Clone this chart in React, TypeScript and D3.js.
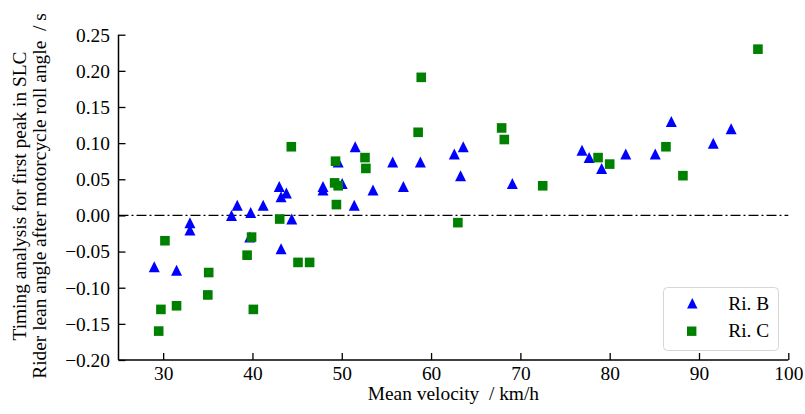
import * as d3 from "d3";
import { useEffect, useRef } from "react";

const W = 805;
const H = 414;

// Ri. B (blue triangles): mean velocity [km/h], timing [s]
const riBVelocity = [29.0, 31.5, 33.0, 33.0, 37.65, 38.3, 39.8, 39.7, 41.2, 43.0, 43.2, 43.2, 43.8, 44.4, 47.9, 47.9, 49.6, 50.05, 51.5, 51.4, 53.5, 55.7, 56.9, 58.8, 62.6, 63.6, 63.3, 69.1, 76.9, 77.7, 79.1, 81.8, 85.1, 86.9, 91.6, 93.6];
const riBTiming = [-0.071, -0.076, -0.010, -0.020, 0.0, 0.014, 0.004, -0.030, 0.014, 0.040, 0.026, -0.046, 0.031, -0.005, 0.040, 0.035, 0.074, 0.044, 0.095, 0.014, 0.035, 0.074, 0.040, 0.074, 0.085, 0.095, 0.055, 0.044, 0.090, 0.080, 0.065, 0.085, 0.085, 0.130, 0.100, 0.120];

// Ri. C (green squares)
const riCVelocity = [29.5, 29.75, 30.2, 31.5, 35.1, 35.0, 39.4, 39.9, 40.1, 43.05, 45.1, 46.4, 44.35, 49.3, 49.2, 49.6, 49.4, 52.6, 52.7, 58.9, 58.55, 63.0, 67.9, 68.2, 72.5, 78.7, 80.0, 86.3, 88.2, 96.6];
const riCTiming = [-0.160, -0.130, -0.035, -0.125, -0.079, -0.110, -0.055, -0.030, -0.130, -0.005, -0.065, -0.065, 0.095, 0.075, 0.045, 0.041, 0.015, 0.080, 0.065, 0.191, 0.115, -0.010, 0.121, 0.105, 0.041, 0.080, 0.071, 0.095, 0.055, 0.230];

const xTicks = [30, 40, 50, 60, 70, 80, 90, 100];
const yTicks = [-0.2, -0.15, -0.1, -0.05, 0, 0.05, 0.1, 0.15, 0.2, 0.25];

const font = "'Liberation Serif', 'Times New Roman', serif";
const fs = "19.4px";
const triPath = "M0,-5.5L-5.5,5.5L5.5,5.5Z";

const App = () => {
	const ref = useRef<SVGSVGElement | null>(null);

	useEffect(() => {
		const svg = d3.select(ref.current);
		svg.selectAll("*").remove();

		const x = d3.scaleLinear().domain([25, 100]).range([118.5, 788.3]);
		const y = d3.scaleLinear().domain([-0.2, 0.25]).range([360, 34.7]);

		// zero line
		svg.append("line")
			.attr("x1", x(25)).attr("x2", x(100))
			.attr("y1", y(0)).attr("y2", y(0))
			.attr("stroke", "black")
			.attr("stroke-width", 1.4)
			.attr("stroke-dasharray", "10,3,2,3");

		// axes
		const xAxis = d3.axisBottom(x).tickValues(xTicks).tickSize(-7).tickFormat(d3.format("d"));
		const gx = svg.append("g").attr("transform", `translate(0,${y(-0.2)})`).call(xAxis);
		const yAxis = d3.axisLeft(y).tickValues(yTicks).tickSize(-7)
			.tickFormat(d => d3.format(".2f")(d as number).replace("-", "\u2212"));
		const gy = svg.append("g").attr("transform", `translate(${x(25)},0)`).call(yAxis);

		[gx, gy].forEach(g => {
			g.attr("font-family", null).attr("font-size", null);
			g.select(".domain").attr("stroke", "black").attr("stroke-width", 1.5);
			g.selectAll(".tick line").attr("stroke", "black").attr("stroke-width", 1.3);
			g.selectAll(".tick text").attr("fill", "black");
		});
		gx.selectAll(".tick text").attr("y", 20).attr("dy", 0);
		gy.selectAll(".tick text").attr("x", -8.5).attr("dy", "0.33em");
		gy.select(".domain").attr("d", `M0,${y(-0.2)}V${y(0.25)}`);
		gx.select(".domain").attr("d", `M${x(25)},0H${x(100)}`);

		// markers
		svg.append("g")
			.selectAll("path")
			.data(riBVelocity.map((v, i) => [v, riBTiming[i]]))
			.enter()
			.append("path")
			.attr("d", triPath)
			.attr("transform", d => `translate(${x(d[0])},${y(d[1])})`)
			.attr("fill", "#0000ff");

		svg.append("g")
			.selectAll("rect")
			.data(riCVelocity.map((v, i) => [v, riCTiming[i]]))
			.enter()
			.append("rect")
			.attr("x", d => x(d[0]) - 4.8)
			.attr("y", d => y(d[1]) - 4.8)
			.attr("width", 9.6)
			.attr("height", 9.6)
			.attr("fill", "#008000");

		// axis labels
		svg.append("text")
			.attr("x", (x(25) + x(100)) / 2)
			.attr("y", 399.5)
			.attr("text-anchor", "middle")
			.style("white-space", "pre")
			.text("Mean velocity  / km/h");

		const yl = svg.append("text")
			.attr("transform", "translate(26,196) rotate(-90)")
			.attr("text-anchor", "middle")
			.style("white-space", "pre");
		yl.append("tspan").attr("x", 0).attr("y", 0).text("Timing analysis for first peak in SLC");
		yl.append("tspan").attr("x", 0).attr("y", 20).text("Rider lean angle after motorcycle roll angle  / s");

		// legend
		const lg = svg.append("g").attr("transform", "translate(663.5,287.5)");
		lg.append("rect")
			.attr("width", 115).attr("height", 63).attr("rx", 4)
			.attr("fill", "white").attr("fill-opacity", 0.8)
			.attr("stroke", "#d6d6d6");
		lg.append("path").attr("d", triPath).attr("transform", "translate(28.8,15.8) scale(0.95)").attr("fill", "#0000ff");
		lg.append("rect").attr("x", 23.5).attr("y", 39).attr("width", 9.4).attr("height", 9.4).attr("fill", "#008000");
		lg.append("text").attr("x", 64.8).attr("y", 22.5).text("Ri. B");
		lg.append("text").attr("x", 64.8).attr("y", 49.8).text("Ri. C");

		svg.selectAll("text")
			.style("font-family", font)
			.style("font-size", fs);
	}, []);

	return (
		<svg ref={ref} width={W} height={H} style={{ position: "absolute", left: 0, top: 0, background: "white" }}></svg>
	);
};

export default App;
